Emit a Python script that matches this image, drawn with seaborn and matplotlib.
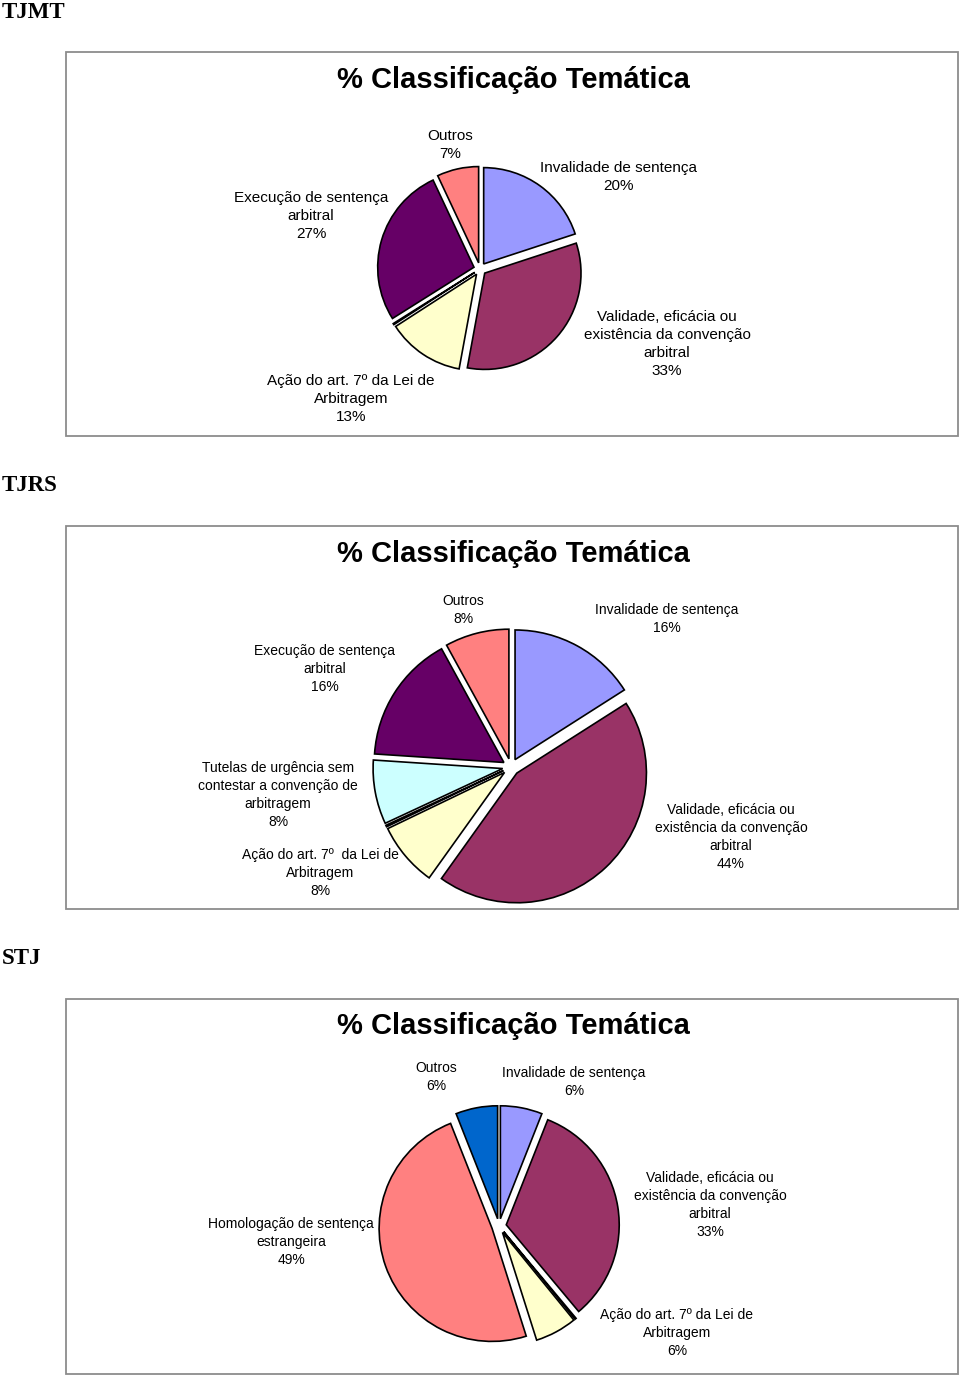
import matplotlib
matplotlib.use('Agg')
import matplotlib.pyplot as plt
from matplotlib.patches import Rectangle
import seaborn as sns

sns.set_theme(style='white')
plt.rcParams['font.family'] = ['Liberation Sans', 'DejaVu Sans']
plt.rcParams['text.color'] = 'black'

# dados (sentido horário a partir do topo; '' = fatia vazia)
tjmt_cat = ['Invalidade de sentença', 'Validade, eficácia ou\nexistência da convenção\narbitral',
            'Ação do art. 7º da Lei de\nArbitragem', '', 'Execução de sentença\narbitral', 'Outros']
tjmt_val = [20, 33, 13, 0.2, 27, 7]

tjrs_cat = ['Invalidade de sentença', 'Validade, eficácia ou\nexistência da convenção\narbitral',
            'Ação do art. 7º  da Lei de\nArbitragem', '',
            'Tutelas de urgência sem\ncontestar a convenção de\narbitragem',
            'Execução de sentença\narbitral', 'Outros']
tjrs_val = [16, 44, 8, 0.2, 8, 16, 8]

stj_cat = ['Invalidade de sentença', 'Validade, eficácia ou\nexistência da convenção\narbitral', '',
           'Ação do art. 7º da Lei de\nArbitragem', 'Homologação de sentença\nestrangeira', 'Outros']
stj_val = [6, 33, 0.2, 6, 49, 6]

cores = {
    'Invalidade': '#9999FF', 'Validade': '#993366', 'Ação': '#FFFFCC', '': '#003300',
    'Execução': '#660066', 'Outros': '#FF8080', 'Tutelas': '#CCFFFF',
    'Homologação': '#FF8080',
}

W, H = 960, 1377
fig = plt.figure(figsize=(W / 100, H / 100), dpi=100)


def fx(x):
    return x / W


def fy(y):
    return 1 - y / H


def painel(nome, y_nome, caixa, y_titulo, cats, vals, centro, raio, pos_labels, fs, cores_extra=None):
    # y_nome = linha de base do nome do tribunal
    fig.text(fx(2), fy(y_nome), nome, family=['Liberation Serif', 'DejaVu Serif'],
             fontweight='bold', fontsize=16.5, va='baseline', ha='left')
    x0, y0, x1, y1 = caixa
    fig.patches.append(Rectangle((fx(x0), fy(y1)), fx(x1 - x0), fy(y0) - fy(y1),
                                 transform=fig.transFigure, fill=False,
                                 edgecolor='#8c8c8c', linewidth=1.3))
    fig.text(fx(513), fy(y_titulo), '% Classificação Temática', fontsize=21,
             fontweight='bold', ha='center', va='center')
    cx, cy = centro
    ax = fig.add_axes([fx(cx - raio), fy(cy + raio), fx(2 * raio), fy(cy - raio) - fy(cy + raio)])
    cols = []
    for c in cats:
        chave = c.split(' ')[0].rstrip(',') if c else ''
        if cores_extra and chave in cores_extra:
            cols.append(cores_extra[chave])
        else:
            cols.append(cores[chave])
    ax.pie(vals, colors=cols, startangle=90, counterclock=False,
           explode=[0.065] * len(vals),
           wedgeprops=dict(edgecolor='black', linewidth=1.2))
    ax.set_xlim(-1.08, 1.08)
    ax.set_ylim(-1.08, 1.08)
    ax.set_aspect('equal')
    ax.axis('off')
    for c, v, pos in zip(cats, vals, pos_labels):
        if not c or pos is None:
            continue
        px, py = pos
        fig.text(fx(px), fy(py), f'{c}\n{v}%', fontsize=fs, ha='center', va='center',
                 linespacing=1.35)


painel('TJMT', 18, (66, 52, 958, 436), 80, tjmt_cat, tjmt_val, (480, 269), 104,
       [(618, 177), (667, 344), (351, 399), None, (311, 216), (450, 145)], 11)

painel('TJRS', 491, (66, 526, 958, 909), 554, tjrs_cat, tjrs_val, (511, 767), 140,
       [(667, 619), (731, 837), (320, 873), None, (278, 795), (325, 669), (463, 610)], 10)

painel('STJ', 964, (66, 999, 958, 1374), 1026, stj_cat, stj_val, (499, 1226), 122,
       [(574, 1082), (710, 1205), None, (677, 1333), (291, 1242), (436, 1077)], 10,
       cores_extra={'Outros': '#0066CC'})

fig.savefig('out.png', dpi=100, facecolor='white')
